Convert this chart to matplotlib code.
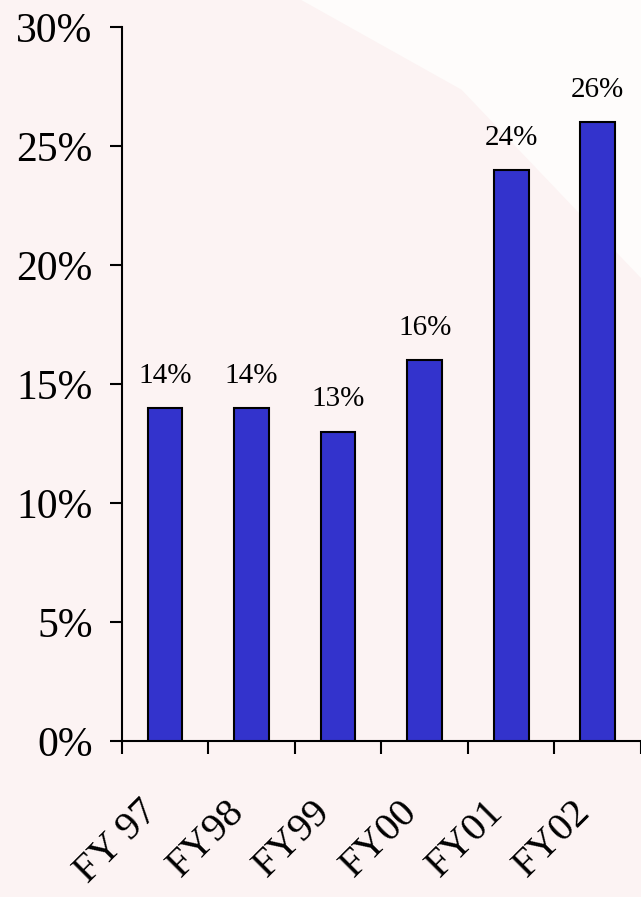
import matplotlib
matplotlib.use('Agg')
import matplotlib.pyplot as plt
from matplotlib.patches import Polygon
from matplotlib.ticker import FixedLocator
import numpy as np

years = ['FY 97', 'FY98', 'FY99', 'FY00', 'FY01', 'FY02']
share = [14, 14, 13, 16, 24, 26]

plt.rcParams['font.family'] = ['Liberation Serif', 'DejaVu Serif']

fig = plt.figure(figsize=(6.41, 8.97), dpi=100, facecolor='#fcf3f3')
# faint white swoosh in the background
fig.patches.append(Polygon([[0.47, 1.0], [1.0, 1.0], [1.0, 0.69], [0.72, 0.90]],
                           closed=True, transform=fig.transFigure,
                           facecolor='#fefcfb', edgecolor='none', zorder=0))
ax = fig.add_axes([0.19, 0.174, 0.81, 0.796])
ax.set_zorder(2)
ax.set_facecolor('none')

x = np.arange(len(years))
ax.bar(x, share, width=0.4, color='#3333cc', edgecolor='black', linewidth=1.5, zorder=3)
for xi, v in zip(x, share):
    ax.text(xi, v + 0.8, f'{v}%', ha='center', va='bottom', fontsize=21)

ax.set_xlim(-0.5, 5.5)
ax.set_ylim(0, 30)
ax.set_yticks(range(0, 31, 5))
ax.set_yticklabels([f'{t}%' for t in range(0, 31, 5)], fontsize=30)
ax.tick_params(axis='y', direction='out', length=9, width=1.5, pad=12)

ax.set_xticks(x)
ax.set_xticklabels(years, fontsize=29, rotation=45, ha='right', va='top')
ax.tick_params(axis='x', which='major', length=0, pad=38)
ax.xaxis.set_minor_locator(FixedLocator(np.arange(-0.5, 6, 1)))
ax.tick_params(axis='x', which='minor', direction='out', length=9, width=1.5)

for s in ['top', 'right']:
    ax.spines[s].set_visible(False)
ax.spines['left'].set_linewidth(1.5)
ax.spines['bottom'].set_linewidth(1.5)

fig.savefig('out.png', dpi=100, facecolor=fig.get_facecolor())
